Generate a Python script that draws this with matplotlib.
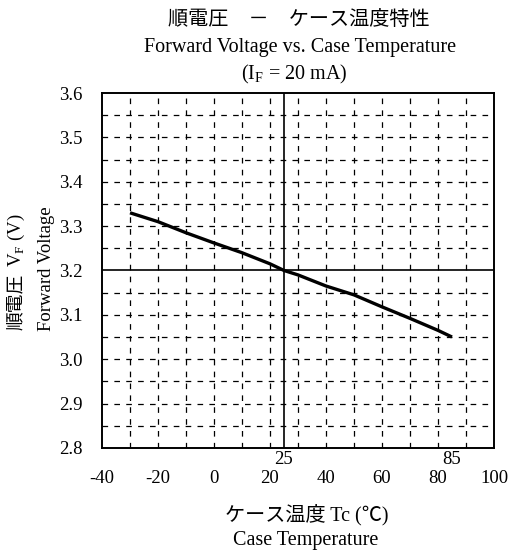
import matplotlib
matplotlib.use("Agg")
import matplotlib.pyplot as plt
import numpy as np

plt.rcParams['font.family'] = ['Liberation Serif', 'Noto Sans CJK JP', 'DejaVu Sans']
plt.rcParams['mathtext.fontset'] = 'custom'
plt.rcParams['mathtext.rm'] = 'Liberation Serif'

temps = [-30, -20, -10, 0, 10, 20, 25, 30, 40, 50, 60, 70, 80, 85]
vf = [3.33, 3.31, 3.285, 3.262, 3.24, 3.215, 3.20, 3.19, 3.165, 3.145, 3.118, 3.092, 3.065, 3.05]

xticks = [-40, -20, 0, 20, 40, 60, 80, 100]
yticks = [2.8, 2.9, 3.0, 3.1, 3.2, 3.3, 3.4, 3.5, 3.6]
xgrid = [-30, -20, -10, 0, 10, 20, 30, 40, 50, 60, 70, 80, 90]
ygrid = [2.85, 2.9, 2.95, 3.0, 3.05, 3.1, 3.15, 3.25, 3.3, 3.35, 3.4, 3.45, 3.5, 3.55]
ref_x = 25
ref_y = 3.2
extra_labels = [25, 85]

fig = plt.figure(figsize=(5.10, 5.53), dpi=100)
ax = fig.add_axes([0.2, 0.19, 0.7686, 0.6418])
ax.set_xlim(-40, 100)
ax.set_ylim(2.8, 3.6)

dash = (0, (4.5, 5))
for gx in xgrid:
    ax.axvline(gx, color='black', lw=0.9, ls=dash, zorder=1)
for gy in ygrid:
    ax.axhline(gy, color='black', lw=0.9, ls=dash, zorder=1)
ax.axvline(ref_x, color='black', lw=1.2, zorder=2)
ax.axhline(ref_y, color='black', lw=1.2, zorder=2)

ax.plot(temps, vf, color='black', lw=2.4, zorder=3, solid_capstyle='butt')

ax.set_xticks(xticks)
ax.set_yticks(yticks)
ax.set_xticklabels([str(t) for t in xticks])
ax.set_yticklabels([f"{v:.1f}" for v in yticks])
ax.tick_params(axis='both', length=0, labelsize=13.5)
ax.tick_params(axis='x', pad=16)
ax.tick_params(axis='y', pad=14)
for s in ax.spines.values():
    s.set_linewidth(1.4)

for lab in extra_labels:
    ax.annotate(str(lab), xy=(lab, 0), xycoords=('data', 'axes fraction'),
                xytext=(0, -2), textcoords='offset points', ha='center', va='top', fontsize=13.5)

fig.text(0.586, 0.963, "順電圧　－　ケース温度特性", ha='center', va='center', fontsize=14.5)
fig.text(0.588, 0.914, "Forward Voltage vs. Case Temperature", ha='center', va='center', fontsize=14.5)
fig.text(0.576, 0.866, r"(I$_\mathregular{F}$ = 20 mA)", ha='center', va='center', fontsize=14.5)

# y labels (rotated)
fig.text(0.033, 0.455, "順電圧", rotation=90, ha='center', va='center', fontsize=13.5)
fig.text(0.033, 0.565, r"V$_\mathregular{F}$ (V)", rotation=90, ha='center', va='center', fontsize=13.5)
fig.text(0.092, 0.514, "Forward Voltage", rotation=90, ha='center', va='center', fontsize=13.5)

fig.text(0.602, 0.069, "ケース温度 Tc (℃)", ha='center', va='center', fontsize=14.5)
fig.text(0.599, 0.022, "Case Temperature", ha='center', va='center', fontsize=14.5)

fig.savefig("out.png", dpi=100)
